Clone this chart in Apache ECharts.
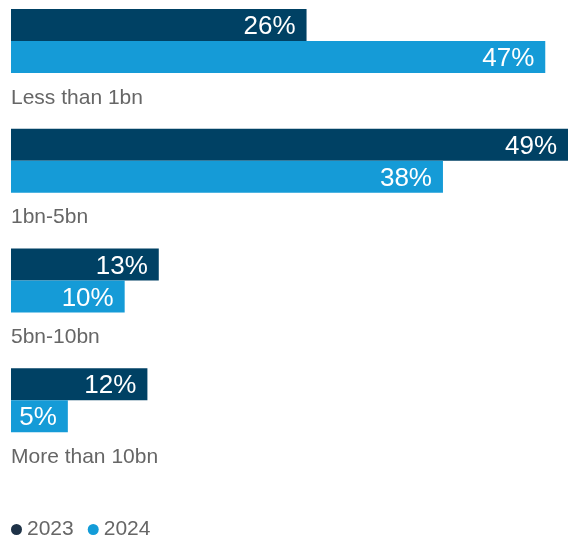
<!DOCTYPE html>
<html><head><meta charset="utf-8">
<script src="https://cdn.jsdelivr.net/npm/echarts@6/dist/echarts.min.js"></script>
<style>html,body{margin:0;padding:0;background:#fff}#c{width:568px;height:539px}</style>
</head><body><div id="c"></div>
<script>
const categories = ['Less than 1bn', '1bn-5bn', '5bn-10bn', 'More than 10bn'];
const seriesNames = ['2023', '2024'];
const values2023 = [26, 49, 13, 12];
const values2024 = [47, 38, 10, 5];

const FONT = 'Liberation Sans, Arial, sans-serif';
const chart = echarts.init(document.getElementById('c'));
const lbl = {
  show: true, position: 'insideRight', distance: 11, offset: [0, 2],
  formatter: '{c}%', color: '#fff', fontSize: 26, fontFamily: FONT
};
chart.setOption({
  animation: false,
  grid: { left: 11, right: 0, top: 9, height: 479 },
  xAxis: { type: 'value', min: 0, max: 49, show: false },
  yAxis: {
    type: 'category', data: categories, inverse: true, show: false
  },
  legend: {
    left: 6, top: 514, padding: 5, icon: 'circle', itemWidth: 11, itemHeight: 11, itemGap: 14,
    textStyle: { color: '#666', fontSize: 21, fontFamily: FONT },
    data: [
      { name: seriesNames[0], itemStyle: { color: '#1e3247' } },
      { name: seriesNames[1], itemStyle: { color: '#139cd8' } }
    ]
  },
  series: [
    { name: seriesNames[0], type: 'bar', data: values2023, barWidth: 32, barGap: 0, barCategoryGap: 0,
      itemStyle: { color: '#004164' }, label: lbl },
    { name: seriesNames[1], type: 'bar', data: values2024, barWidth: 32, barGap: 0, barCategoryGap: 0,
      itemStyle: { color: '#159bd7' }, label: lbl },
    { name: 'category', type: 'bar', data: categories.map(() => 0), barWidth: 55.7, barGap: 0, barCategoryGap: 0,
      itemStyle: { color: 'rgba(0,0,0,0)' }, silent: true,
      label: { show: true, position: 'right', distance: 0, offset: [0, -3],
        formatter: p => categories[p.dataIndex], color: '#666', fontSize: 21, fontFamily: FONT } }
  ]
});
</script></body></html>
